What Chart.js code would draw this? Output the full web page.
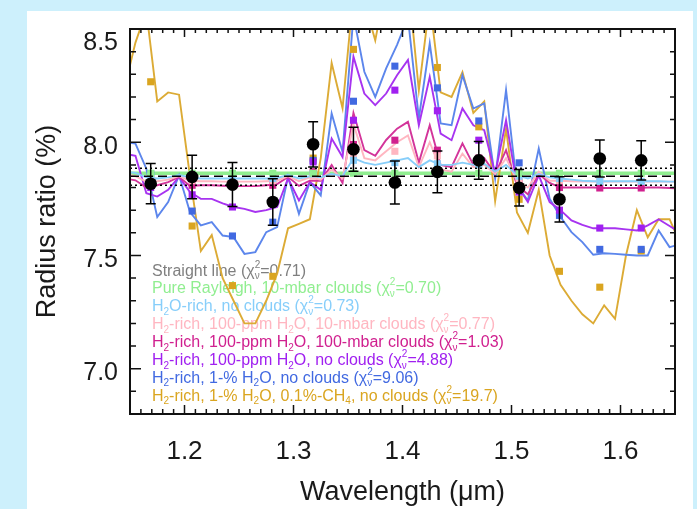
<!DOCTYPE html>
<html>
<head>
<meta charset="utf-8">
<title>Transmission spectrum</title>
<script src="https://cdn.jsdelivr.net/npm/chart.js@4.4.1/dist/chart.umd.min.js"></script>
<style>
  html, body { margin: 0; padding: 0; background: #cdf0fc; overflow: hidden; }
  #panel { position: absolute; left: 27px; top: 11px; width: 666px; height: 498px; background: #fff; }
  #spectrum { position: absolute; left: 0; top: 0; }
</style>
</head>
<body>
<div id="panel"></div>
<canvas id="spectrum" width="697" height="509"></canvas>
<script>
// 🔹 MEASURED SPECTRUM (one point per spectral bin)
const binWavelengths = [1.169, 1.207, 1.244, 1.281, 1.318, 1.355, 1.393, 1.432, 1.470, 1.507, 1.544, 1.581, 1.619];
const radiusRatio = [7.817, 7.847, 7.813, 7.736, 7.991, 7.969, 7.822, 7.869, 7.920, 7.799, 7.748, 7.928, 7.920];
const radiusError = [0.089, 0.096, 0.097, 0.103, 0.100, 0.097, 0.095, 0.092, 0.083, 0.081, 0.100, 0.082, 0.087];

// 🔹 STRAIGHT-LINE FIT and its 1-sigma band, flat Rayleigh model
const axisEnds = [1.15, 1.65];
const flatFit = 7.85;
const flatFitLow = 7.81;
const flatFitHigh = 7.885;
const rayleighLevel = 7.863;

// 🔹 MODEL SPECTRA (high resolution)
const modelWavelengths = [1.145, 1.155, 1.165, 1.175, 1.185, 1.195, 1.205, 1.215, 1.225, 1.235,
  1.245, 1.255, 1.265, 1.275, 1.285, 1.295, 1.305, 1.315, 1.325, 1.335,
  1.345, 1.355, 1.365, 1.375, 1.385, 1.395, 1.405, 1.415, 1.425, 1.435,
  1.445, 1.455, 1.465, 1.475, 1.485, 1.495, 1.505, 1.515, 1.525, 1.535,
  1.545, 1.555, 1.565, 1.575, 1.585, 1.595, 1.605, 1.615, 1.625, 1.635,
  1.645, 1.655];
const h2oRichClear = [7.87, 7.865, 7.845, 7.84, 7.845, 7.855, 7.845, 7.84, 7.84, 7.84,
  7.84, 7.84, 7.84, 7.84, 7.842, 7.855, 7.84, 7.85, 7.845, 7.86,
  7.85, 7.93, 7.91, 7.90, 7.91, 7.92, 7.93, 7.89, 7.92, 7.90,
  7.90, 7.91, 7.90, 7.905, 7.87, 7.90, 7.855, 7.84, 7.86, 7.845,
  7.84, 7.835, 7.83, 7.828, 7.828, 7.828, 7.828, 7.828, 7.828, 7.828,
  7.826, 7.826];
const ppm100Cloud10 = [7.86, 7.85, 7.825, 7.828, 7.835, 7.85, 7.83, 7.828, 7.828, 7.826,
  7.826, 7.826, 7.826, 7.828, 7.83, 7.85, 7.828, 7.845, 7.835, 7.88,
  7.84, 8.08, 7.93, 7.92, 7.96, 8.00, 8.03, 7.89, 8.00, 7.88,
  7.87, 7.95, 7.89, 7.90, 7.86, 7.93, 7.83, 7.80, 7.87, 7.83,
  7.83, 7.828, 7.826, 7.826, 7.826, 7.826, 7.826, 7.826, 7.826, 7.826,
  7.826, 7.826];
const ppm100Cloud100 = [7.84, 7.832, 7.80, 7.81, 7.824, 7.847, 7.807, 7.81, 7.81, 7.808,
  7.806, 7.806, 7.806, 7.81, 7.815, 7.847, 7.807, 7.83, 7.83, 7.90,
  7.82, 8.13, 7.965, 7.94, 8.01, 8.06, 8.09, 7.91, 8.075, 7.90,
  7.89, 7.995, 7.90, 7.93, 7.86, 7.965, 7.81, 7.77, 7.86, 7.82,
  7.80, 7.80, 7.80, 7.80, 7.798, 7.798, 7.798, 7.798, 7.80, 7.80,
  7.798, 7.796];
const ppm100Clear = [7.95, 7.94, 7.775, 7.76, 7.79, 7.847, 7.78, 7.75, 7.75, 7.73,
  7.714, 7.706, 7.692, 7.70, 7.714, 7.84, 7.743, 7.824, 7.79, 8.016,
  7.935, 8.378, 8.215, 8.164, 8.215, 8.296, 8.363, 8.075, 8.289, 8.038,
  8.009, 8.149, 8.075, 8.053, 7.861, 8.097, 7.81, 7.736, 7.854, 7.736,
  7.70, 7.655, 7.635, 7.62, 7.62, 7.62, 7.615, 7.61, 7.633, 7.66,
  7.63, 7.60];
const pct1Clear = [8.00, 7.994, 7.883, 7.67, 7.736, 7.854, 7.692, 7.633, 7.647, 7.588,
  7.581, 7.507, 7.515, 7.603, 7.625, 7.847, 7.684, 7.824, 7.765, 8.127,
  7.957, 8.56, 8.311, 8.20, 8.326, 8.43, 8.55, 8.105, 8.437, 8.083,
  8.075, 8.296, 8.149, 8.171, 7.84, 8.23, 7.81, 7.743, 7.972, 7.751,
  7.67, 7.603, 7.559, 7.503, 7.51, 7.507, 7.503, 7.50, 7.50, 7.61,
  7.537, 7.55];
const pct1Methane = [8.24, 8.44, 8.58, 8.18, 8.22, 8.21, 7.85, 7.52, 7.59, 7.40,
  7.30, 7.20, 7.20, 7.30, 7.42, 7.62, 7.64, 7.66, 7.93, 8.35,
  8.15, 8.66, 8.62, 8.45, 8.70, 8.76, 8.72, 8.23, 8.62, 8.22,
  8.20, 8.31, 8.13, 8.18, 7.74, 8.06, 7.69, 7.60, 7.79, 7.50,
  7.37, 7.30, 7.24, 7.20, 7.28, 7.22, 7.50, 7.70, 7.58, 7.66,
  7.66, 7.55];

// 🔹 MODELS BINNED TO THE DATA
const rayleighBins = [7.863, 7.863, 7.863, 7.863, 7.863, 7.863, 7.863, 7.863, 7.863, 7.863, 7.863, 7.863, 7.863];
const h2oRichBins = [7.85, 7.84, 7.84, 7.84, 7.86, 7.92, 7.91, 7.905, 7.90, 7.85, 7.84, 7.827, 7.827];
const cloud10Bins = [7.83, 7.83, 7.83, 7.83, 7.85, 7.94, 7.96, 7.94, 7.90, 7.83, 7.83, 7.827, 7.827];
const cloud100Bins = [7.81, 7.81, 7.807, 7.81, 7.87, 7.99, 8.009, 7.965, 7.93, 7.82, 7.80, 7.798, 7.798];
const ppm100Bins = [7.80, 7.768, 7.714, 7.73, 7.913, 8.097, 8.23, 8.139, 8.009, 7.78, 7.70, 7.621, 7.621];
const pct1Bins = [7.861, 7.696, 7.586, 7.647, 7.92, 8.181, 8.336, 8.24, 8.094, 7.909, 7.677, 7.527, 7.527];
const methaneBins = [8.267, 7.63, 7.367, 7.408, 7.93, 8.41, 8.62, 8.33, 8.068, 7.748, 7.43, 7.36, 7.52];

// 🔹 LEGEND LINES (_{} = subscript, ^{}_{} = stacked sup/sub)
const legendEntries = [
  { text: 'Straight line (χ^{2}_{ν}=0.71)', color: '#7f7f7f' },
  { text: 'Pure Rayleigh, 10-mbar clouds (χ^{2}_{ν}=0.70)', color: '#90ee90' },
  { text: 'H_{2}O-rich, no clouds (χ^{2}_{ν}=0.73)', color: '#87cefa' },
  { text: 'H_{2}-rich, 100-ppm H_{2}O, 10-mbar clouds (χ^{2}_{ν}=0.77)', color: '#ffb6c1' },
  { text: 'H_{2}-rich, 100-ppm H_{2}O, 100-mbar clouds (χ^{2}_{ν}=1.03)', color: '#d0208f' },
  { text: 'H_{2}-rich, 100-ppm H_{2}O, no clouds (χ^{2}_{ν}=4.88)', color: '#a020f0' },
  { text: 'H_{2}-rich, 1-% H_{2}O, no clouds (χ^{2}_{ν}=9.06)', color: '#4169e1' },
  { text: 'H_{2}-rich, 1-% H_{2}O, 0.1%-CH_{4}, no clouds (χ^{2}_{ν}=19.7)', color: '#daa520' }
];

const FONT = '"Liberation Sans", Arial, Helvetica, sans-serif';

function pairs(xs, ys) {
  return xs.map((x, i) => ({ x: x, y: ys[i] }));
}

function isMajor(v, perUnit) {
  return Math.abs(v * perUnit - Math.round(v * perUnit)) < 1e-6;
}

function modelLine(label, values, color) {
  return {
    label: label, data: pairs(modelWavelengths, values), showLine: true,
    borderColor: color, borderWidth: 1.9, pointRadius: 0, order: 4
  };
}

function binSquares(label, values, color) {
  return {
    label: label, data: pairs(binWavelengths, values), pointStyle: 'rect', pointRadius: 5,
    backgroundColor: color, borderColor: color, borderWidth: 0, order: 3
  };
}

function levelLine(label, level, dash) {
  return {
    label: label, data: pairs(axisEnds, [level, level]), showLine: true,
    borderColor: '#000', borderWidth: 1.5, borderDash: dash, pointRadius: 0, order: 2
  };
}

// text with H_{2} style subscripts and stacked chi-square indices
function drawRich(ctx, text, x, y, size) {
  const big = size + 'px ' + FONT;
  const small = Math.round(size * 0.62) + 'px ' + FONT;
  const re = /\^\{([^}]*)\}_\{([^}]*)\}|_\{([^}]*)\}/g;
  let last = 0;
  let m;
  while ((m = re.exec(text)) !== null) {
    const plain = text.slice(last, m.index);
    ctx.font = big;
    ctx.fillText(plain, x, y);
    x += ctx.measureText(plain).width;
    ctx.font = small;
    if (m[1] !== undefined) {
      ctx.fillText(m[1], x, y - size * 0.5);
      ctx.fillText(m[2], x, y + size * 0.22);
      x += Math.max(ctx.measureText(m[1]).width, ctx.measureText(m[2]).width);
    } else {
      ctx.fillText(m[3], x, y + size * 0.22);
      x += ctx.measureText(m[3]).width;
    }
    last = re.lastIndex;
  }
  ctx.font = big;
  ctx.fillText(text.slice(last), x, y);
}

const richLegend = {
  id: 'richLegend',
  beforeDatasetsDraw(chart) {
    const ctx = chart.ctx;
    ctx.save();
    ctx.textBaseline = 'alphabetic';
    ctx.textAlign = 'left';
    legendEntries.forEach((entry, i) => {
      ctx.fillStyle = entry.color;
      drawRich(ctx, entry.text, 152, 275.5 + i * 17.9, 16);
    });
    ctx.restore();
  }
};

const errorBars = {
  id: 'errorBars',
  afterDatasetsDraw(chart) {
    const ctx = chart.ctx;
    const xs = chart.scales.x;
    const ys = chart.scales.y;
    ctx.save();
    ctx.strokeStyle = '#000';
    ctx.lineWidth = 1.5;
    chart.data.datasets.forEach(ds => {
      if (!ds.errorBars) return;
      ds.data.forEach((p, i) => {
        const px = xs.getPixelForValue(p.x);
        const top = ys.getPixelForValue(p.y + ds.errorBars[i]);
        const bot = ys.getPixelForValue(p.y - ds.errorBars[i]);
        ctx.beginPath();
        ctx.moveTo(px, top); ctx.lineTo(px, bot);
        ctx.moveTo(px - 5, top); ctx.lineTo(px + 5, top);
        ctx.moveTo(px - 5, bot); ctx.lineTo(px + 5, bot);
        ctx.stroke();
      });
    });
    ctx.restore();
  }
};

// box around the plot with inward ticks on all four sides
const frameTicks = {
  id: 'frameTicks',
  afterDraw(chart) {
    const ctx = chart.ctx;
    const a = chart.chartArea;
    const xs = chart.scales.x;
    const ys = chart.scales.y;
    ctx.save();
    ctx.strokeStyle = '#111';
    ctx.lineWidth = 1.5;
    ctx.beginPath();
    xs.ticks.forEach(t => {
      const px = xs.getPixelForValue(t.value);
      const major = isMajor(t.value, 10);
      ctx.moveTo(px, a.bottom); ctx.lineTo(px, a.bottom - (major ? 9 : 5));
      ctx.moveTo(px, a.top); ctx.lineTo(px, a.top + (major ? 8 : 4));
    });
    ys.ticks.forEach(t => {
      const py = ys.getPixelForValue(t.value);
      const major = isMajor(t.value, 2);
      ctx.moveTo(a.left, py); ctx.lineTo(a.left + (major ? 11 : 6), py);
      ctx.moveTo(a.right, py); ctx.lineTo(a.right - (major ? 10 : 5), py);
    });
    ctx.stroke();
    ctx.lineWidth = 2;
    ctx.strokeRect(a.left, a.top, a.right - a.left, a.bottom - a.top);
    ctx.restore();
  }
};

const datasets = [
  {
    label: 'Data', data: pairs(binWavelengths, radiusRatio), pointRadius: 6.3,
    backgroundColor: '#000', borderColor: '#000', borderWidth: 0, order: 0,
    errorBars: radiusError
  },
  levelLine('Straight line', flatFit, [9, 5]),
  levelLine('Fit low', flatFitLow, [2, 3]),
  levelLine('Fit high', flatFitHigh, [2, 3]),
  binSquares('Rayleigh binned', rayleighBins, '#90ee90'),
  binSquares('H2O-rich binned', h2oRichBins, '#87cefa'),
  binSquares('10-mbar binned', cloud10Bins, '#ffb6c1'),
  binSquares('100-mbar binned', cloud100Bins, '#d0208f'),
  binSquares('100-ppm binned', ppm100Bins, '#a020f0'),
  binSquares('1% binned', pct1Bins, '#4169e1'),
  binSquares('CH4 binned', methaneBins, '#daa520'),
  modelLine('H2O-rich', h2oRichClear, '#87cefa'),
  modelLine('10-mbar clouds', ppm100Cloud10, '#ffb6c1'),
  modelLine('100-mbar clouds', ppm100Cloud100, '#d3349a'),
  modelLine('100-ppm clear', ppm100Clear, '#a733f0'),
  modelLine('1% clear', pct1Clear, '#5c86ec'),
  modelLine('1% + CH4', pct1Methane, '#dcab35'),
  {
    label: 'Pure Rayleigh', data: pairs(axisEnds, [rayleighLevel, rayleighLevel]), showLine: true,
    borderColor: '#90ee90', borderWidth: 3.5, pointRadius: 0, order: 5
  }
];

new Chart(document.getElementById('spectrum'), {
  type: 'scatter',
  data: { datasets: datasets },
  options: {
    responsive: false,
    animation: false,
    devicePixelRatio: 1,
    layout: { padding: { left: 0, right: 22, top: 29, bottom: 0 } },
    plugins: { legend: { display: false }, tooltip: { enabled: false } },
    scales: {
      x: {
        type: 'linear', min: 1.15, max: 1.65,
        afterFit: s => { s.height = 95; s.paddingLeft = 0; s.paddingRight = 0; },
        grid: { display: false, drawTicks: false },
        border: { display: false },
        ticks: {
          stepSize: 0.01, autoSkip: false, maxRotation: 0, padding: 22, color: '#1a1a1a',
          font: { family: FONT, size: 26 },
          callback: v => isMajor(v, 10) ? v.toFixed(1) : ''
        },
        title: {
          display: true, text: 'Wavelength (μm)', color: '#1a1a1a',
          font: { family: FONT, size: 27 }, padding: { top: 0, bottom: 0 }
        }
      },
      y: {
        type: 'linear', min: 6.8, max: 8.5,
        afterFit: s => { s.width = 130; s.paddingTop = 0; s.paddingBottom = 0; },
        grid: { display: false, drawTicks: false },
        border: { display: false },
        ticks: {
          stepSize: 0.1, autoSkip: false, padding: 12, labelOffset: 4.5, color: '#1a1a1a',
          font: { family: FONT, size: 25, lineHeight: '20px' },
          callback: v => isMajor(v, 2) ? (v > 8.45 ? ['', v.toFixed(1)] : v.toFixed(1)) : ''
        },
        title: {
          display: true, text: 'Radius ratio (%)', color: '#1a1a1a',
          font: { family: FONT, size: 27 }, padding: { top: 31, bottom: 0 }
        }
      }
    }
  },
  plugins: [richLegend, errorBars, frameTicks]
});
</script>
</body>
</html>
